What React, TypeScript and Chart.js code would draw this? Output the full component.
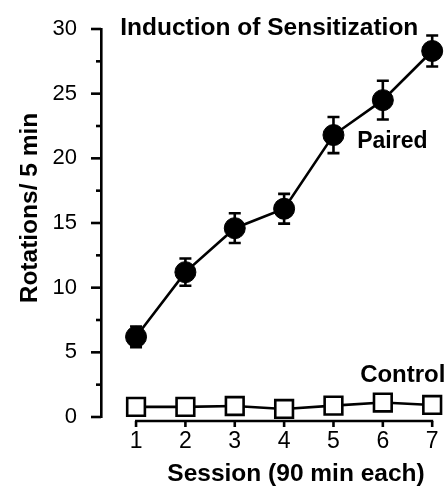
import React, { useEffect, useRef } from 'react';
import { Chart, registerables } from 'chart.js';

Chart.register(...registerables);

const sessions = [1, 2, 3, 4, 5, 6, 7];
const sessionLabels = ['1', '2', '3', '4', '5', '6', '7'];
const pairedMeans = [6.2, 11.2, 14.6, 16.1, 21.8, 24.5, 28.3];
const pairedErrors = [0.8, 1.05, 1.15, 1.15, 1.4, 1.5, 1.2];
const controlMeans = [0.78, 0.78, 0.85, 0.62, 0.88, 1.12, 0.93];
const yMajorTicks = [0, 5, 10, 15, 20, 25, 30];
const yTickLabels = ['0', '5', '10', '15', '20', '25', '30'];
const yMinorTicks = [2.5, 7.5, 12.5, 17.5, 22.5, 27.5];

const titleText = 'Induction of Sensitization';
const xTitle = 'Session (90 min each)';
const yTitle = 'Rotations/ 5 min';
const pairedLabel = 'Paired';
const controlLabel = 'Control';

const FONT = '"Liberation Sans", Arial, Helvetica, sans-serif';

const decorPlugin = {
  id: 'decor',
  afterDatasetsDraw(chart: any) {
    const { ctx, scales } = chart;
    const x = scales.x;
    const y = scales.y;
    ctx.save();
    ctx.strokeStyle = '#000';
    ctx.lineWidth = 2.6;
    pairedMeans.forEach((m, i) => {
      const px = x.getPixelForValue(sessions[i]);
      const top = y.getPixelForValue(m + pairedErrors[i]);
      const bot = y.getPixelForValue(m - pairedErrors[i]);
      ctx.beginPath();
      ctx.moveTo(px, top);
      ctx.lineTo(px, bot);
      ctx.moveTo(px - 6, top);
      ctx.lineTo(px + 6, top);
      ctx.moveTo(px - 6, bot);
      ctx.lineTo(px + 6, bot);
      ctx.stroke();
    });
    ctx.restore();
  },
  afterDraw(chart: any) {
    const { ctx, scales, chartArea } = chart;
    const x = scales.x;
    const y = scales.y;
    ctx.save();
    ctx.strokeStyle = '#000';
    ctx.lineWidth = 2.6;
    const drawTick = (v: number, len: number) => {
      const py = y.getPixelForValue(v);
      ctx.beginPath();
      ctx.moveTo(chartArea.left - len, py);
      ctx.lineTo(chartArea.left, py);
      ctx.stroke();
    };
    yMajorTicks.forEach((v) => drawTick(v, 10));
    yMinorTicks.forEach((v) => drawTick(v, 5));
    const axisY = chartArea.bottom + 4;
    const x0 = x.getPixelForValue(sessions[0]);
    const x1 = x.getPixelForValue(sessions[sessions.length - 1]);
    ctx.beginPath();
    ctx.moveTo(x0 - 1, axisY);
    ctx.lineTo(x1 + 1, axisY);
    ctx.stroke();
    sessions.forEach((s) => {
      const px = x.getPixelForValue(s);
      ctx.beginPath();
      ctx.moveTo(px, axisY);
      ctx.lineTo(px, axisY + 6);
      ctx.stroke();
    });
    ctx.fillStyle = '#000';
    ctx.textBaseline = 'alphabetic';
    ctx.textAlign = 'left';
    ctx.font = `bold 24.5px ${FONT}`;
    ctx.fillText(titleText, x.getPixelForValue(0.68), y.getPixelForValue(29.54));
    ctx.font = `bold 23px ${FONT}`;
    ctx.fillText(pairedLabel, x.getPixelForValue(5.48), y.getPixelForValue(20.8));
    ctx.font = `bold 24px ${FONT}`;
    ctx.fillText(controlLabel, x.getPixelForValue(5.54), y.getPixelForValue(2.73));
    ctx.font = `bold 24.5px ${FONT}`;
    ctx.textAlign = 'center';
    ctx.fillText(xTitle, 296, 481);
    ctx.translate(37, 208);
    ctx.rotate(-Math.PI / 2);
    ctx.fillText(yTitle, 0, 0);
    ctx.restore();
  },
};

export default function App() {
  const ref = useRef<HTMLCanvasElement | null>(null);
  useEffect(() => {
    if (!ref.current) return;
    const chart = new Chart(ref.current, {
      type: 'line',
      data: {
        datasets: [
          {
            label: 'Control',
            data: sessions.map((s, i) => ({ x: s, y: controlMeans[i] })),
            borderColor: '#000',
            borderWidth: 2.6,
            pointStyle: 'rect',
            pointRadius: 12.5,
            pointBackgroundColor: '#fff',
            pointBorderColor: '#000',
            pointBorderWidth: 2.6,
            tension: 0,
            clip: false,
          },
          {
            label: 'Paired',
            data: sessions.map((s, i) => ({ x: s, y: pairedMeans[i] })),
            borderColor: '#000',
            borderWidth: 2.6,
            pointStyle: 'circle',
            pointRadius: 10.5,
            pointBackgroundColor: '#000',
            pointBorderColor: '#000',
            pointBorderWidth: 1,
            tension: 0,
            clip: false,
          },
        ],
      },
      options: {
        animation: false,
        responsive: false,
        layout: { autoPadding: false, padding: { top: 29, left: 0, right: 0, bottom: 0 } },
        plugins: { legend: { display: false }, tooltip: { enabled: false }, title: { display: false } },
        scales: {
          x: {
            type: 'linear',
            min: 0.29,
            max: 7.3,
            afterFit: (scale: any) => {
              scale.height = 70;
              scale.paddingLeft = 0;
              scale.paddingRight = 0;
            },
            afterBuildTicks: (scale: any) => {
              scale.ticks = sessions.map((v) => ({ value: v }));
            },
            border: { display: false },
            grid: { display: true, drawOnChartArea: false, drawTicks: true, tickLength: 10, color: 'rgba(0,0,0,0)' },
            ticks: {
              color: '#000',
              font: { family: FONT, size: 23 },
              padding: 1,
              maxRotation: 0,
              autoSkip: false,
              callback: (v: any) => sessionLabels[sessions.indexOf(Number(v))] ?? '',
            },
          },
          y: {
            type: 'linear',
            min: 0,
            max: 30,
            afterFit: (scale: any) => {
              scale.width = 101;
            },
            afterBuildTicks: (scale: any) => {
              scale.ticks = yMajorTicks.map((v) => ({ value: v }));
            },
            border: { display: true, color: '#000', width: 2.6 },
            grid: { display: true, drawOnChartArea: false, drawTicks: true, tickLength: 10, color: 'rgba(0,0,0,0)' },
            ticks: {
              color: '#000',
              font: { family: FONT, size: 22 },
              padding: 14,
              autoSkip: false,
              callback: (v: any) => yTickLabels[yMajorTicks.indexOf(Number(v))] ?? '',
            },
          },
        },
      },
      plugins: [decorPlugin],
    });
    return () => chart.destroy();
  }, []);
  return (
    <div style={{ position: 'absolute', left: 0, top: 0, width: 447, height: 487, background: '#fff' }}>
      <canvas ref={ref} width={447} height={487} />
    </div>
  );
}
